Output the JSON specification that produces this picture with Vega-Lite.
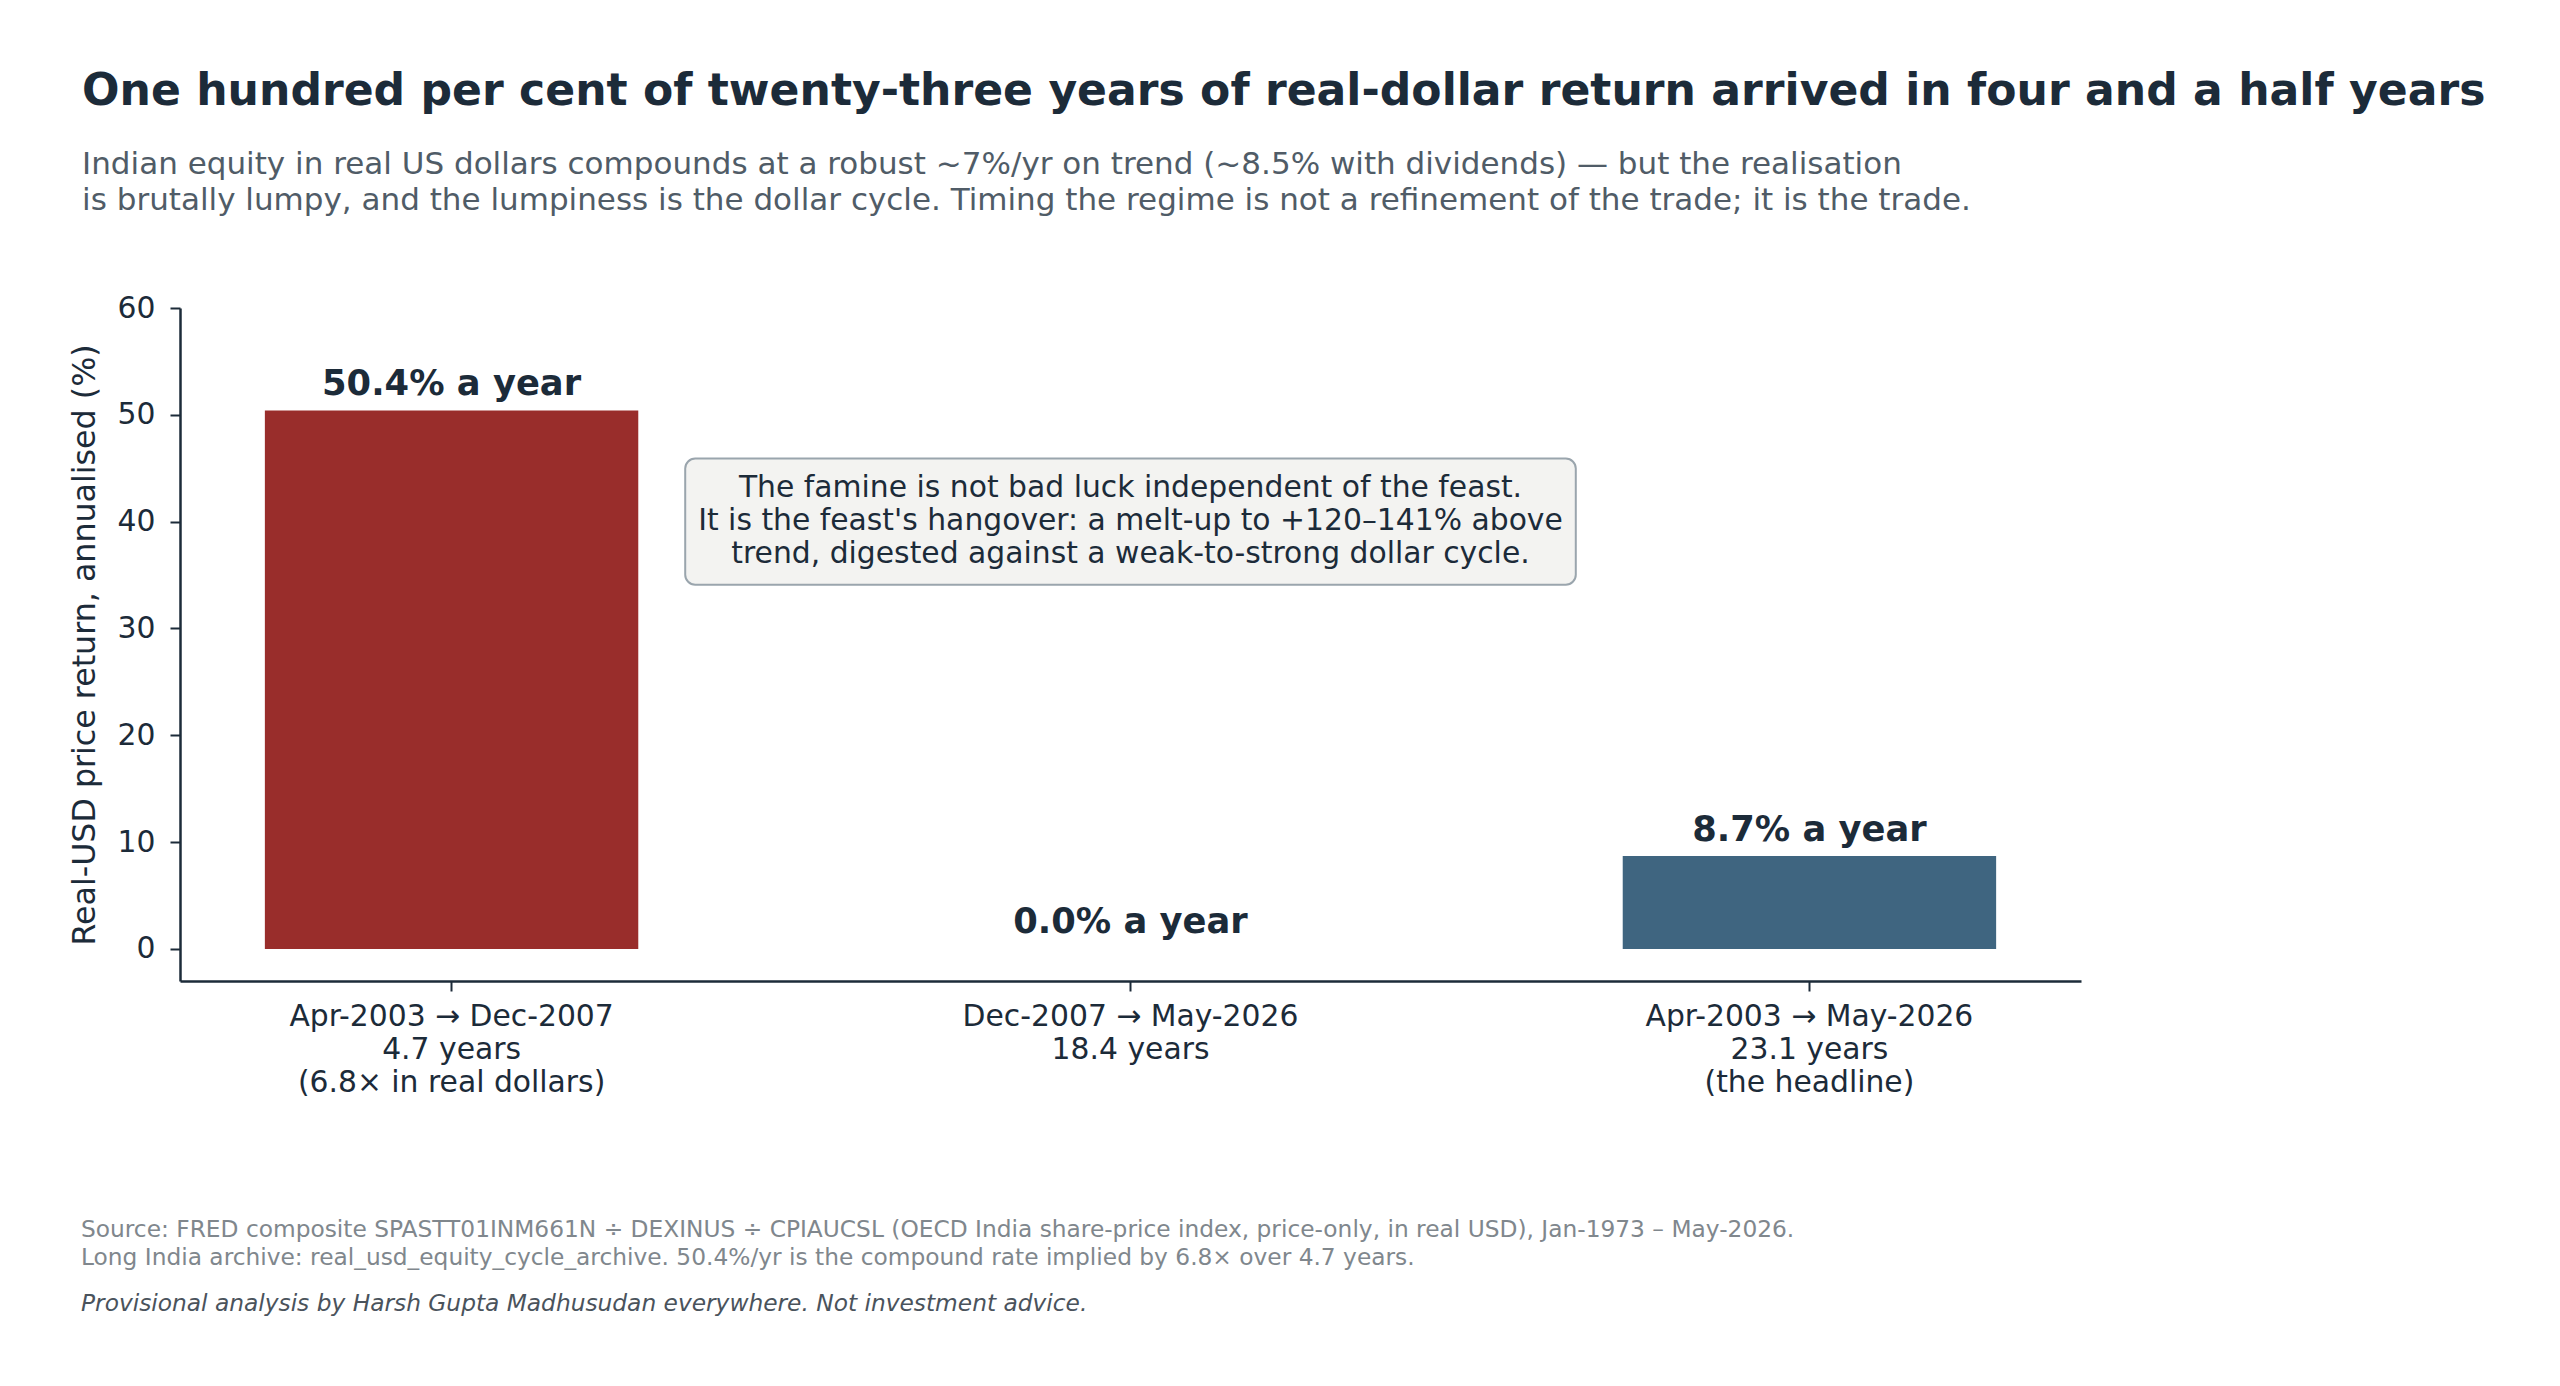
{
  "$schema": "https://vega.github.io/schema/vega-lite/v6.json",
  "background": "white",
  "padding": {"left": 69, "top": 70, "right": 20, "bottom": 20},
  "config": {
    "font": "DejaVu Sans",
    "view": {"stroke": null}
  },
  "title": {
    "text": "One hundred per cent of twenty-three years of real-dollar return arrived in four and a half years",
    "subtitle": [
      "Indian equity in real US dollars compounds at a robust ~7%/yr on trend (~8.5% with dividends) — but the realisation",
      "is brutally lumpy, and the lumpiness is the dollar cycle. Timing the regime is not a refinement of the trade; it is the trade."
    ],
    "anchor": "start",
    "dx": 13,
    "font": "DejaVu Sans",
    "fontSize": 44.1,
    "fontWeight": "bold",
    "color": "#1c2b39",
    "subtitleFont": "DejaVu Sans",
    "subtitleFontSize": 31,
    "subtitleColor": "#505c67",
    "subtitleLineHeight": 36,
    "subtitlePadding": 35,
    "offset": 77.5
  },
  "spacing": 121,
  "vconcat": [
    {
      "width": 1901,
      "height": 673,
      "data": {
        "values": [
          {"period": "Apr-2003 → Dec-2007\n4.7 years\n(6.8× in real dollars)", "ret": 50.4, "label": "50.4% a year", "kind": "feast", "note": null},
          {"period": "Dec-2007 → May-2026\n18.4 years", "ret": 0.0, "label": "0.0% a year", "kind": "famine", "note": "The famine is not bad luck independent of the feast.\nIt is the feast's hangover: a melt-up to +120–141% above\ntrend, digested against a weak-to-strong dollar cycle."},
          {"period": "Apr-2003 → May-2026\n23.1 years\n(the headline)", "ret": 8.7, "label": "8.7% a year", "kind": "headline", "note": null}
        ]
      },
      "encoding": {
        "x": {
          "field": "period",
          "type": "nominal",
          "sort": null,
          "scale": {"paddingInner": 0.45, "paddingOuter": 0.125},
          "axis": {
            "title": null,
            "labelAngle": 0,
            "labelExpr": "split(datum.label, '\\n')",
            "labelFontSize": 29.8,
            "labelLineHeight": 33,
            "labelColor": "#1c2b39",
            "labelPadding": 10,
            "labelLimit": 0,
            "bandPosition": 0.5,
            "tickSize": 10,
            "tickWidth": 2,
            "tickColor": "#1c2b39",
            "domainColor": "#1c2b39",
            "domainWidth": 2.5
          }
        }
      },
      "layer": [
        {
          "mark": {"type": "bar"},
          "encoding": {
            "y": {
              "field": "ret",
              "type": "quantitative",
              "scale": {"domain": [-3, 60], "nice": false, "zero": false},
              "axis": {
                "title": "Real-USD price return, annualised (%)",
                "titleFontSize": 31.7,
                "titleFontWeight": "normal",
                "titleColor": "#1c2b39",
                "titlePadding": 16,
                "values": [0, 10, 20, 30, 40, 50, 60],
                "grid": false,
                "labelFontSize": 29.8,
                "labelColor": "#1c2b39",
                "labelPadding": 15,
                "tickSize": 10,
                "tickWidth": 2,
                "tickColor": "#1c2b39",
                "domainColor": "#1c2b39",
                "domainWidth": 2.5
              }
            },
            "y2": {"datum": 0},
            "color": {
              "field": "kind",
              "type": "nominal",
              "scale": {"domain": ["feast", "famine", "headline"], "range": ["#992d2b", "#9aa5ad", "#3f6580"]},
              "legend": null
            }
          }
        },
        {
          "mark": {"type": "rule", "color": "#1c2b39", "strokeWidth": 2.5},
          "encoding": {"y": {"datum": 0}}
        },
        {
          "mark": {"type": "text", "baseline": "alphabetic", "dy": -15.5, "fontSize": 35.3, "fontWeight": "bold", "color": "#1c2b39"},
          "encoding": {
            "y": {"field": "ret", "type": "quantitative"},
            "text": {"field": "label"}
          }
        },
        {
          "transform": [{"filter": "datum.note != null"}],
          "mark": {"type": "bar", "width": {"band": 2.385}, "cornerRadius": 10, "fill": "#f3f3f1", "stroke": "#9aa5ad", "strokeWidth": 2},
          "encoding": {
            "y": {"datum": 45.9},
            "y2": {"datum": 34.1}
          }
        },
        {
          "transform": [{"filter": "datum.note != null"}],
          "mark": {"type": "text", "baseline": "middle", "align": "center", "dy": -33.5, "lineBreak": "\n", "lineHeight": 33, "fontSize": 29.8, "color": "#1c2b39"},
          "encoding": {
            "y": {"datum": 40},
            "text": {"field": "note"}
          }
        }
      ]
    },
    {
      "width": 1901,
      "height": 74,
      "data": {
        "values": [
          {"kind": "source", "text": "Source: FRED composite SPASTT01INM661N ÷ DEXINUS ÷ CPIAUCSL (OECD India share-price index, price-only, in real USD), Jan-1973 – May-2026.\nLong India archive: real_usd_equity_cycle_archive. 50.4%/yr is the compound rate implied by 6.8× over 4.7 years."},
          {"kind": "note", "text": "Provisional analysis by Harsh Gupta Madhusudan everywhere. Not investment advice."}
        ]
      },
      "encoding": {
        "x": {"datum": 0, "scale": {"domain": [0, 1]}, "axis": null},
        "y": {"field": "kind", "type": "ordinal", "scale": {"type": "point", "padding": 0, "domain": ["source", "note"]}, "axis": null},
        "text": {"field": "text"}
      },
      "layer": [
        {
          "transform": [{"filter": "datum.kind == 'source'"}],
          "mark": {"type": "text", "align": "left", "baseline": "top", "dx": -99, "fontSize": 23.3, "lineBreak": "\n", "lineHeight": 28, "color": "#80878d"}
        },
        {
          "transform": [{"filter": "datum.kind == 'note'"}],
          "mark": {"type": "text", "align": "left", "baseline": "top", "dx": -99, "fontSize": 23.3, "fontStyle": "italic", "color": "#4a535c"}
        }
      ]
    }
  ]
}
